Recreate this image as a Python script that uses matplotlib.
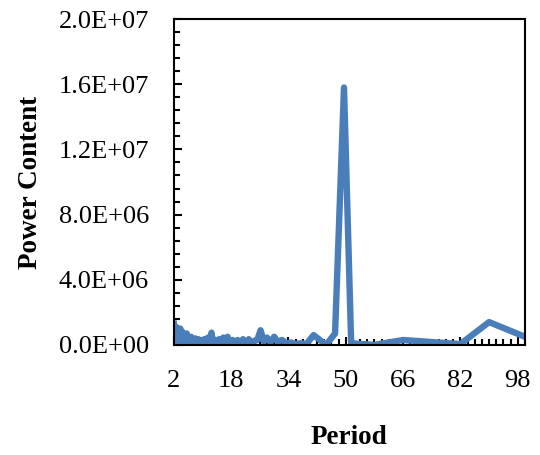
import numpy as np
from matplotlib import pyplot as plt
from matplotlib.ticker import MultipleLocator, FixedLocator, FuncFormatter

# period and power content (power in units of 1E6)
period = [2.0, 2.3, 2.6, 2.9, 3.2, 3.5, 3.8, 4.1, 4.4, 4.7, 5.0, 5.3, 5.6, 5.9,
          6.2, 6.5, 6.8, 7.1, 7.4, 7.7, 8.0, 8.4, 8.8, 9.2, 9.6, 10.0, 10.5,
          11.0, 11.5, 12.0, 12.5, 13.0, 13.5, 14.0, 14.6, 15.2, 15.8, 16.4,
          17.0, 17.7, 18.4, 19.1, 19.8, 20.5, 21.3, 22.1, 22.9, 23.7, 24.5,
          25.3, 26.2, 27.1, 28.0, 29.0, 30.0, 31.0, 32.2, 33.4, 34.7, 36.0,
          37.5, 39.0, 41.0, 44.5, 47.0, 49.5, 51.5, 58.0, 66.0, 82.0, 90.0, 100.0]
power = [1.3, 0.2, 1.1, 0.1, 1.0, 0.2, 1.0, 0.1, 0.8, 0.2, 0.6, 0.1, 0.7, 0.2,
         0.4, 0.1, 0.5, 0.15, 0.35, 0.05, 0.4, 0.1, 0.35, 0.05, 0.3, 0.1, 0.35,
         0.05, 0.45, 0.1, 0.75, 0.05, 0.3, 0.1, 0.35, 0.05, 0.45, 0.1,
         0.5, 0.05, 0.3, 0.1, 0.3, 0.05, 0.35, 0.1, 0.35, 0.05, 0.25,
         0.3, 0.9, 0.2, 0.45, 0.15, 0.5, 0.2, 0.3, 0.1, 0.15, 0.05,
         0.1, 0.05, 0.6, 0.0, 0.7, 15.8, 0.1, 0.0, 0.3, 0.05, 1.4, 0.5]
power = [p * 1e6 for p in power]
xticks = [2, 18, 34, 50, 66, 82, 98]

plt.rcParams['font.family'] = ['Liberation Serif', 'DejaVu Serif']

fig = plt.figure(figsize=(5.4, 4.55), dpi=100)
ax = fig.add_axes([0.322, 0.242, 0.650, 0.716])

ax.plot(period, power, color='#4a7ebb', linewidth=4.6, solid_joinstyle='round')

ax.set_xlim(2, 100)
ax.set_ylim(0, 2e7)
ax.xaxis.set_major_locator(FixedLocator(xticks))
ax.xaxis.set_minor_locator(MultipleLocator(2))
ax.yaxis.set_major_locator(MultipleLocator(4e6))
ax.yaxis.set_minor_locator(MultipleLocator(8e5))
ax.yaxis.set_major_formatter(FuncFormatter(lambda v, p: '%.1E' % v))

for s in ax.spines.values():
    s.set_linewidth(1.5)
ax.tick_params(which='both', direction='in', width=1.5, top=False, right=False)
ax.tick_params(which='major', length=6, labelsize=19)
ax.tick_params(which='minor', length=4)
ax.tick_params(axis='x', which='major', pad=18)
ax.tick_params(axis='y', which='major', pad=18)

ax.set_xlabel('Period', fontsize=19.5, fontweight='bold', labelpad=24)
ax.set_ylabel('Power Content', fontsize=19.5, fontweight='bold', labelpad=11)

fig.savefig('out.png', dpi=100)
